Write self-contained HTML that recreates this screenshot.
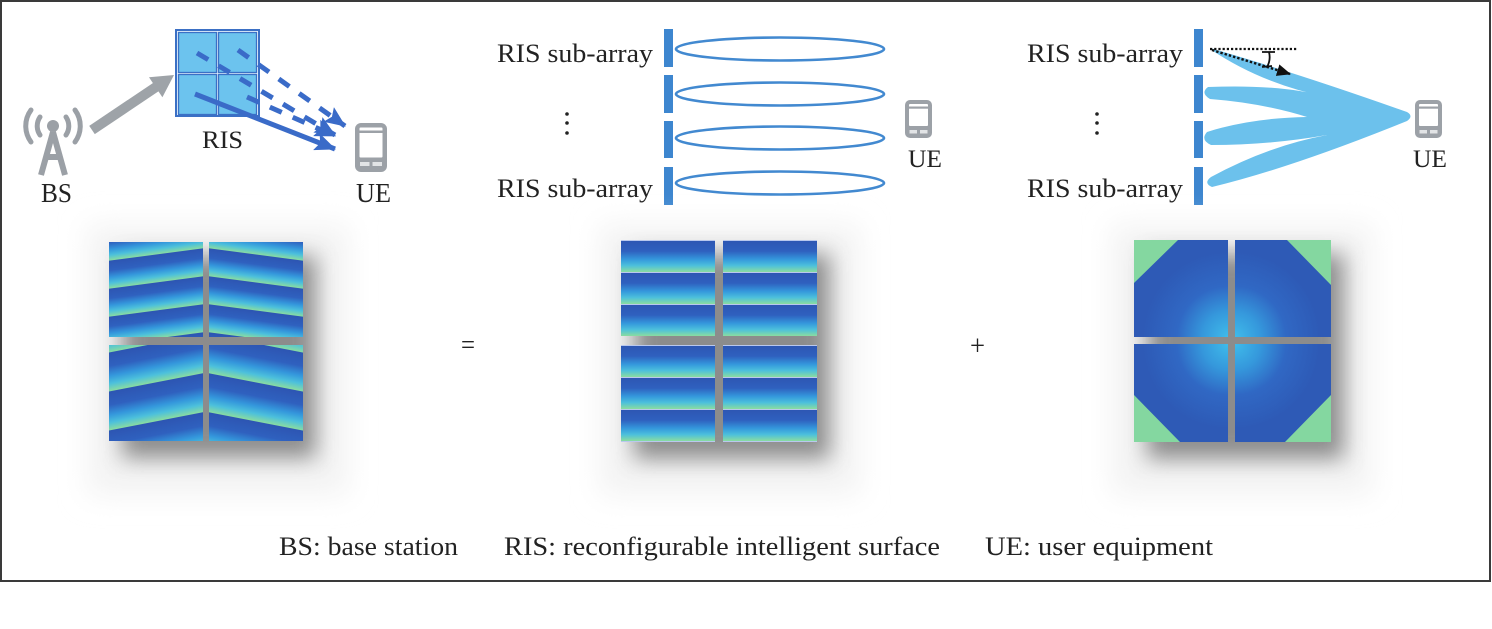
<!DOCTYPE html>
<html><head><meta charset="utf-8"><style>
html,body{margin:0;padding:0;background:#fff;}
svg{display:block;}
text{font-family:"Liberation Serif",serif;fill:#222;}
</style></head><body>
<svg width="1492" height="629" viewBox="0 0 1492 629" xmlns="http://www.w3.org/2000/svg">
<defs>
  <linearGradient id="gv" x1="0" y1="0" x2="0" y2="1">
    <stop offset="0" stop-color="#2d55b2"/>
    <stop offset="0.35" stop-color="#2f61bf"/>
    <stop offset="0.6" stop-color="#3497dc"/>
    <stop offset="0.8" stop-color="#4cc0dc"/>
    <stop offset="1" stop-color="#8adca0"/>
  </linearGradient>
  <pattern id="p1" patternUnits="userSpaceOnUse" x="0" y="18.7" width="300" height="28" patternTransform="skewY(-7.5)">
    <rect x="0" y="0" width="300" height="28" fill="url(#gv)"/>
  </pattern>
  <pattern id="p2" patternUnits="userSpaceOnUse" x="0" y="6.3" width="300" height="28" patternTransform="skewY(7.5)">
    <rect x="0" y="0" width="300" height="28" fill="url(#gv)"/>
  </pattern>
  <pattern id="p3" patternUnits="userSpaceOnUse" x="0" y="7.5" width="300" height="39" patternTransform="skewY(-11)">
    <rect x="0" y="0" width="300" height="39" fill="url(#gv)"/>
  </pattern>
  <pattern id="p4" patternUnits="userSpaceOnUse" x="0" y="28.3" width="300" height="39" patternTransform="skewY(11)">
    <rect x="0" y="0" width="300" height="39" fill="url(#gv)"/>
  </pattern>
  <pattern id="ph" patternUnits="userSpaceOnUse" x="0" y="0" width="300" height="32">
    <rect x="0" y="0" width="300" height="32" fill="url(#gv)"/>
    <rect x="0" y="0" width="300" height="1" fill="#b9c8ee"/>
  </pattern>
  <radialGradient id="rTL" cx="94" cy="97" r="85" gradientUnits="userSpaceOnUse">
    <stop offset="0" stop-color="#3fbbea"/>
    <stop offset="0.3" stop-color="#3598dc"/>
    <stop offset="0.6" stop-color="#3068c4"/>
    <stop offset="1" stop-color="#2e5ab6"/>
  </radialGradient>
  <radialGradient id="rTR" cx="0" cy="97" r="85" gradientUnits="userSpaceOnUse">
    <stop offset="0" stop-color="#3fbbea"/>
    <stop offset="0.3" stop-color="#3598dc"/>
    <stop offset="0.6" stop-color="#3068c4"/>
    <stop offset="1" stop-color="#2e5ab6"/>
  </radialGradient>
  <radialGradient id="rBL" cx="94" cy="0" r="85" gradientUnits="userSpaceOnUse">
    <stop offset="0" stop-color="#3fbbea"/>
    <stop offset="0.3" stop-color="#3598dc"/>
    <stop offset="0.6" stop-color="#3068c4"/>
    <stop offset="1" stop-color="#2e5ab6"/>
  </radialGradient>
  <radialGradient id="rBR" cx="0" cy="0" r="85" gradientUnits="userSpaceOnUse">
    <stop offset="0" stop-color="#3fbbea"/>
    <stop offset="0.3" stop-color="#3598dc"/>
    <stop offset="0.6" stop-color="#3068c4"/>
    <stop offset="1" stop-color="#2e5ab6"/>
  </radialGradient>
  <filter id="sh" x="-50%" y="-50%" width="200%" height="200%"><feGaussianBlur stdDeviation="11"/></filter>
  <filter id="gl" x="-50%" y="-50%" width="200%" height="200%"><feGaussianBlur stdDeviation="14"/></filter>
  <marker id="mb" markerUnits="userSpaceOnUse" markerWidth="22" markerHeight="18" refX="20" refY="9" orient="auto">
    <path d="M0,0 L21,9 L0,18 L4,9 z" fill="#3a6bc8"/>
  </marker>
  <marker id="mk" markerUnits="userSpaceOnUse" markerWidth="14" markerHeight="12" refX="13" refY="6" orient="auto">
    <path d="M0,0 L14,6 L0,12 z" fill="#111"/>
  </marker>
</defs>

<!-- frame -->
<rect x="1" y="1" width="1489" height="580" fill="#fff" stroke="#3a3a3a" stroke-width="2"/>

<!-- ===== Panel 1 top ===== -->
<g stroke="#9ba0a6" fill="none" stroke-width="5" stroke-linecap="round">
  <path d="M40,117 A16,16 0 0 0 40,135"/>
  <path d="M66,117 A16,16 0 0 1 66,135"/>
  <path d="M31,110 A27,27 0 0 0 31,142"/>
  <path d="M75,110 A27,27 0 0 1 75,142"/>
  <path d="M53,132 L41,175 M53,132 L65,175 M46,157 L60,157" stroke-linecap="butt" stroke-width="6"/>
</g>
<circle cx="53" cy="126" r="6" fill="#9ba0a6"/>
<text x="41" y="202" font-size="27" textLength="31" lengthAdjust="spacingAndGlyphs">BS</text>

<line x1="92" y1="130" x2="156" y2="87" stroke="#9ea3a8" stroke-width="10"/>
<polygon points="174,75 162.4,97.3 149,77.3" fill="#9ea3a8"/>

<rect x="175" y="29" width="85" height="88" fill="#3b70c5"/>
<rect x="177" y="31" width="81" height="84" fill="#eaf4fc"/>
<g fill="#6cc3ee" stroke="#3b70c5" stroke-width="1.3">
  <rect x="178.5" y="32.5" width="38" height="40"/>
  <rect x="218.5" y="32.5" width="38" height="40"/>
  <rect x="178.5" y="74.5" width="38" height="40"/>
  <rect x="218.5" y="74.5" width="38" height="40"/>
</g>
<text x="202" y="148" font-size="25" textLength="41" lengthAdjust="spacingAndGlyphs">RIS</text>

<g stroke="#3a6bc8" stroke-width="5" fill="none">
  <line x1="197" y1="53" x2="335" y2="135" stroke-dasharray="13 12" marker-end="url(#mb)"/>
  <line x1="238" y1="50" x2="345" y2="126" stroke-dasharray="13 12" marker-end="url(#mb)"/>
  <line x1="247" y1="97" x2="335" y2="136" stroke-dasharray="13 12" marker-end="url(#mb)"/>
  <line x1="195" y1="94" x2="335" y2="149" marker-end="url(#mb)"/>
</g>

<g>
  <rect x="355" y="123" width="32" height="49" rx="6" fill="#9ca1a7"/>
  <rect x="359.5" y="127.5" width="23" height="30" rx="1" fill="#fff"/>
  <rect x="359.5" y="130.5" width="23" height="2.5" fill="#9ca1a7"/>
  <rect x="360" y="162" width="9.5" height="4" fill="#e2e4e6"/>
  <rect x="372.5" y="162" width="9.5" height="4" fill="#e2e4e6"/>
</g>
<text x="356" y="202" font-size="27" textLength="35" lengthAdjust="spacingAndGlyphs">UE</text>

<!-- ===== Panel 2 top ===== -->
<text x="497" y="62" font-size="26" textLength="156" lengthAdjust="spacingAndGlyphs">RIS sub-array</text>
<text x="497" y="197" font-size="26" textLength="156" lengthAdjust="spacingAndGlyphs">RIS sub-array</text>
<g fill="#222"><circle cx="567" cy="114" r="1.8"/><circle cx="567" cy="123" r="1.8"/><circle cx="567" cy="133" r="1.8"/></g>
<g fill="#3d86cf">
  <rect x="664" y="29" width="9" height="38"/>
  <rect x="664" y="75" width="9" height="38"/>
  <rect x="664" y="121" width="9" height="37"/>
  <rect x="664" y="167" width="9" height="38"/>
</g>
<g fill="none" stroke="#4289d0" stroke-width="2.6">
  <ellipse cx="780" cy="49" rx="104" ry="11.5"/>
  <ellipse cx="780" cy="94" rx="104" ry="11.5"/>
  <ellipse cx="780" cy="138" rx="104" ry="11.5"/>
  <ellipse cx="780" cy="183" rx="104" ry="11.5"/>
</g>
<g>
  <rect x="905" y="100" width="27" height="38" rx="5" fill="#9ca1a7"/>
  <rect x="909" y="104" width="19" height="22" rx="1" fill="#fff"/>
  <rect x="909" y="106.5" width="19" height="2.2" fill="#9ca1a7"/>
  <rect x="909.5" y="130" width="7.5" height="3.5" fill="#e2e4e6"/>
  <rect x="920" y="130" width="7.5" height="3.5" fill="#e2e4e6"/>
</g>
<text x="908" y="167" font-size="25" textLength="34" lengthAdjust="spacingAndGlyphs">UE</text>

<!-- ===== Panel 3 top ===== -->
<text x="1027" y="62" font-size="26" textLength="156" lengthAdjust="spacingAndGlyphs">RIS sub-array</text>
<text x="1027" y="197" font-size="26" textLength="156" lengthAdjust="spacingAndGlyphs">RIS sub-array</text>
<g fill="#222"><circle cx="1097" cy="114" r="1.8"/><circle cx="1097" cy="123" r="1.8"/><circle cx="1097" cy="133" r="1.8"/></g>
<g fill="#3d86cf">
  <rect x="1194" y="29" width="9" height="38"/>
  <rect x="1194" y="75" width="9" height="38"/>
  <rect x="1194" y="121" width="9" height="37"/>
  <rect x="1194" y="167" width="9" height="38"/>
</g>
<path fill="#6cc1ec" d="M1210,48 Q1300,74 1407,112 Q1414,116 1407,121 Q1291,168 1212,187 Q1203,183 1211,177 Q1268,146 1327,135 Q1270,145 1211,145 Q1200,140 1207,132 Q1250,118 1307,117 Q1262,103 1210,99 Q1200,93 1208,87 Q1282,84 1327,97 Q1262,84 1210,49 Z"/>
<line x1="1210" y1="49" x2="1298" y2="49" stroke="#111" stroke-width="2.2" stroke-dasharray="2.2 2"/>
<line x1="1212" y1="50" x2="1290" y2="74" stroke="#111" stroke-width="2.4" stroke-dasharray="2.4 2" marker-end="url(#mk)"/>
<path d="M1262,52 L1275,52 M1269,52 Q1271,60 1267,67 M1262,67 L1272,66" stroke="#111" stroke-width="1.8" fill="none"/>
<g>
  <rect x="1415" y="100" width="27" height="38" rx="5" fill="#9ca1a7"/>
  <rect x="1419" y="104" width="19" height="22" rx="1" fill="#fff"/>
  <rect x="1419" y="106.5" width="19" height="2.2" fill="#9ca1a7"/>
  <rect x="1419.5" y="130" width="7.5" height="3.5" fill="#e2e4e6"/>
  <rect x="1430" y="130" width="7.5" height="3.5" fill="#e2e4e6"/>
</g>
<text x="1413" y="167" font-size="25" textLength="34" lengthAdjust="spacingAndGlyphs">UE</text>

<!-- ===== Heatmaps ===== -->
<rect x="88" y="225" width="260" height="270" fill="#f3f3f3" filter="url(#gl)"/>
<rect x="600" y="225" width="260" height="270" fill="#f3f3f3" filter="url(#gl)"/>
<rect x="1112" y="225" width="260" height="270" fill="#f3f3f3" filter="url(#gl)"/>
<rect x="122" y="256" width="194" height="202" fill="#6a6a6a" opacity="0.75" filter="url(#sh)"/>
<rect x="634" y="254" width="196" height="205" fill="#6a6a6a" opacity="0.75" filter="url(#sh)"/>
<rect x="1147" y="254" width="197" height="205" fill="#6a6a6a" opacity="0.75" filter="url(#sh)"/>

<g transform="translate(109,242)"><rect x="0" y="0" width="94" height="95" fill="url(#p1)"/></g>
<g transform="translate(209,242)"><rect x="0" y="0" width="94" height="95" fill="url(#p2)"/></g>
<g transform="translate(109,345)"><rect x="0" y="0" width="94" height="96" fill="url(#p3)"/></g>
<g transform="translate(209,345)"><rect x="0" y="0" width="94" height="96" fill="url(#p4)"/></g>

<g transform="translate(621,240)"><rect x="0" y="0" width="94" height="96" fill="url(#ph)"/></g>
<g transform="translate(723,240)"><rect x="0" y="0" width="94" height="96" fill="url(#ph)"/></g>
<g transform="translate(621,345)"><rect x="0" y="0" width="94" height="97" fill="url(#ph)"/></g>
<g transform="translate(723,345)"><rect x="0" y="0" width="94" height="97" fill="url(#ph)"/></g>

<g transform="translate(1134,240)">
  <rect width="94" height="97" fill="url(#rTL)"/>
  <polygon points="0,0 44,0 0,43" fill="#84d7a0"/>
</g>
<g transform="translate(1235,240)">
  <rect width="96" height="97" fill="url(#rTR)"/>
  <polygon points="96,0 52,0 96,45" fill="#84d7a0"/>
</g>
<g transform="translate(1134,344)">
  <rect width="94" height="98" fill="url(#rBL)"/>
  <polygon points="0,98 0,51 46,98" fill="#84d7a0"/>
</g>
<g transform="translate(1235,344)">
  <rect width="96" height="98" fill="url(#rBR)"/>
  <polygon points="96,98 96,51 50,98" fill="#84d7a0"/>
</g>

<text x="461" y="354" font-size="28" textLength="14" lengthAdjust="spacingAndGlyphs">=</text>
<text x="970" y="355" font-size="28" textLength="15" lengthAdjust="spacingAndGlyphs">+</text>

<text x="279" y="555" font-size="26" textLength="179" lengthAdjust="spacingAndGlyphs">BS: base station</text>
<text x="504" y="555" font-size="26" textLength="436" lengthAdjust="spacingAndGlyphs">RIS: reconfigurable intelligent surface</text>
<text x="985" y="555" font-size="26" textLength="228" lengthAdjust="spacingAndGlyphs">UE: user equipment</text>
</svg>
</body></html>
